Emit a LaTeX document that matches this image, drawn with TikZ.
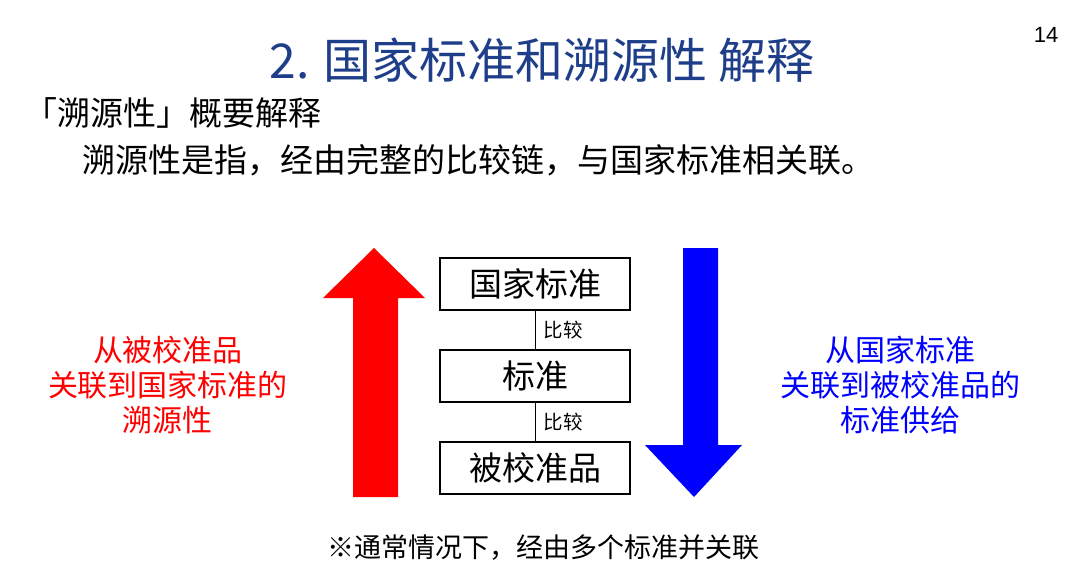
\documentclass[tikz,border=0pt]{standalone}
\usepackage{fontspec}
\newfontfamily\cjk{Noto Sans CJK SC}
\setmainfont{Liberation Sans}
\definecolor{ttl}{HTML}{1F3E8A}
\begin{document}
\begin{tikzpicture}[x=1pt,y=-1pt,
  txt/.style={inner sep=0,font=\cjk\fontsize{33}{36}\selectfont},
  bx/.style={draw,line width=1.2pt,minimum width=190pt,minimum height=52pt,inner sep=0,font=\cjk\fontsize{33}{36}\selectfont},
  sm/.style={inner sep=0,font=\cjk\fontsize{19.5}{22}\selectfont}]
\useasboundingbox (0,0) rectangle (1080,575);
\node[inner sep=0,text=ttl,font=\cjk\fontsize{48}{52}\selectfont] (title) at (542,60) {2. 国家标准和溯源性 解释};
\node[inner sep=0,font=\fontsize{22}{26}\selectfont] (pg) at (1046,35) {14};
\node[txt,anchor=west] (l1) at (24,113) {「溯源性」概要解释};
\node[txt,anchor=west] (l2) at (82,160) {溯源性是指，经由完整的比较链，与国家标准相关联。};
\node[bx] (b1) at (535,284) {国家标准};
\node[bx] (b2) at (535,376) {标准};
\node[bx] (b3) at (535,468) {被校准品};
\draw[line width=1pt] (b1) -- (b2) node[midway,right=8pt,sm] {比较};
\draw[line width=1pt] (b2) -- (b3) node[midway,right=8pt,sm] {比较};
\fill[red] (353,497) -- (353,298) -- (323,298) -- (374,248) -- (425,298) -- (398,298) -- (398,497) -- cycle;
\fill[blue] (683,248) -- (683,445) -- (645,445) -- (694,497) -- (742,445) -- (718,445) -- (718,248) -- cycle;
\node[txt,text=red,align=center,font=\cjk\fontsize{30}{35}\selectfont] (rt) at (168,385) {从被校准品\\关联到国家标准的\\溯源性};
\node[txt,text=blue,align=center,font=\cjk\fontsize{30}{35}\selectfont] (bt) at (900,385) {从国家标准\\关联到被校准品的\\标准供给};
\node[inner sep=0,font=\cjk\fontsize{27}{30}\selectfont] (note) at (543,548) {※通常情况下，经由多个标准并关联};
\end{tikzpicture}
\end{document}
